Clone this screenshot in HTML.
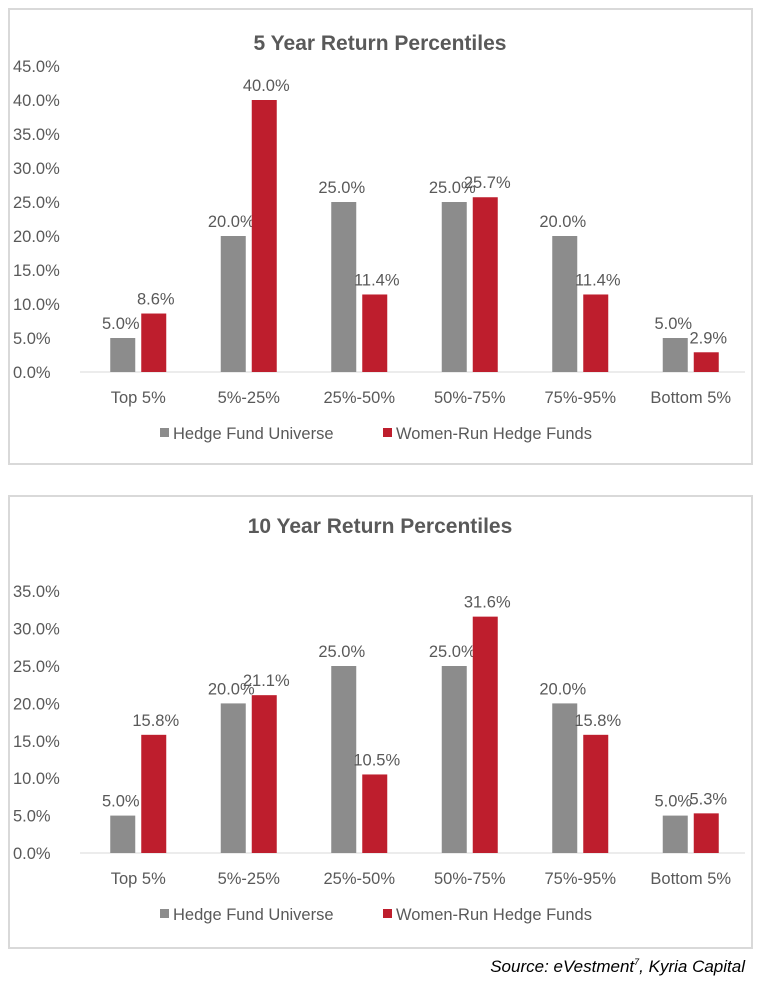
<!DOCTYPE html>
<html><head><meta charset="utf-8"><style>
body{margin:0;background:#fff;width:765px;height:982px;overflow:hidden;font-family:"Liberation Sans",sans-serif}
svg text{font-family:"Liberation Sans",sans-serif}
</style></head><body>
<svg id="svg" width="765" height="982">
<text x="745" y="972" text-anchor="end" font-size="17" font-style="italic" fill="#000">Source: eVestment<tspan font-size="9" dy="-7">7</tspan><tspan dy="7">, Kyria Capital</tspan></text>
</svg>
<script>
const categories = ["Top 5%","5%-25%","25%-50%","50%-75%","75%-95%","Bottom 5%"];
const universe5 = [5.0,20.0,25.0,25.0,20.0,5.0];
const women5 = [8.6,40.0,11.4,25.7,11.4,2.9];
const universe10 = [5.0,20.0,25.0,25.0,20.0,5.0];
const women10 = [15.8,21.1,10.5,31.6,15.8,5.3];
const ticks5 = [0,5,10,15,20,25,30,35,40,45];
const ticks10 = [0,5,10,15,20,25,30,35];
const seriesNames = ["Hedge Fund Universe","Women-Run Hedge Funds"];

const NS="http://www.w3.org/2000/svg";
const svg=document.getElementById('svg');
function mk(tag,attrs,parent,text){const e=document.createElementNS(NS,tag);for(const k in attrs)e.setAttribute(k,attrs[k]);if(text!==undefined)e.textContent=text;(parent||svg).appendChild(e);return e;}

function chart(cfg){
  const g=mk('g',{});
  
  
  const fr=mk('rect',{x:9,y:cfg.top,width:743,height:cfg.h,fill:'#fff',stroke:'#d9d9d9','stroke-width':2},g);
  
  
  const t=mk('text',{x:380,y:cfg.titleY,'text-anchor':'middle','font-size':21,'font-weight':'bold',fill:'#595959'},g,cfg.title);
  
  
  const y=v=>cfg.y0-(v/5)*cfg.step;
  const x0=83,band=110.5;
  const xc=i=>x0+band*(i+0.5);
  cfg.ticks.forEach(v=>{
    const tl=mk('text',{x:13,y:y(v)+6,'font-size':16.5,fill:'#595959'},g,v.toFixed(1)+'%');
    
    
  });
  const ax=mk('line',{x1:x0-3,x2:745,y1:cfg.y0,y2:cfg.y0,stroke:'#d9d9d9','stroke-width':1},g);
  
  
  const bw=25,gap=6;
  categories.forEach((c,i)=>{
    [[cfg.a,'#8c8c8c',-1],[cfg.b,'#be1e2d',1]].forEach(([arr,col,s],k)=>{
      const v=arr[i];
      const bx=s<0?xc(i)-gap/2-bw:xc(i)+gap/2;
      const r=mk('rect',{x:bx,y:y(v),width:bw,height:cfg.y0-y(v),fill:col},g);
      
      
      const l=mk('text',{x:bx+bw/2+(s<0?-2:2),y:y(v)-9,'text-anchor':'middle','font-size':16.5,fill:'#595959'},g,v.toFixed(1)+'%');
      
      
    });
    const cl=mk('text',{x:xc(i),y:cfg.y0+31,'text-anchor':'middle','font-size':16.5,fill:'#595959'},g,c);
    
    
  });
  const ly=cfg.y0+67;
  const leg=[[160,'#8c8c8c',seriesNames[0]],[383,'#be1e2d',seriesNames[1]]];
  leg.forEach(([lx,col,txt])=>{
    const s=mk('rect',{x:lx,y:ly-11,width:9,height:9,fill:col},g);
    
    
    const lt=mk('text',{x:lx+13,y:ly,'font-size':16.5,fill:'#595959'},g,txt);
    
    
  });
}
chart({name:'five-year-chart',top:9,h:455,titleY:50,title:'5 Year Return Percentiles',y0:372,step:34,ticks:ticks5,a:universe5,b:women5});
chart({name:'ten-year-chart',top:496,h:452,titleY:533,title:'10 Year Return Percentiles',y0:853,step:37.4,ticks:ticks10,a:universe10,b:women10});
</script>
</body></html>
